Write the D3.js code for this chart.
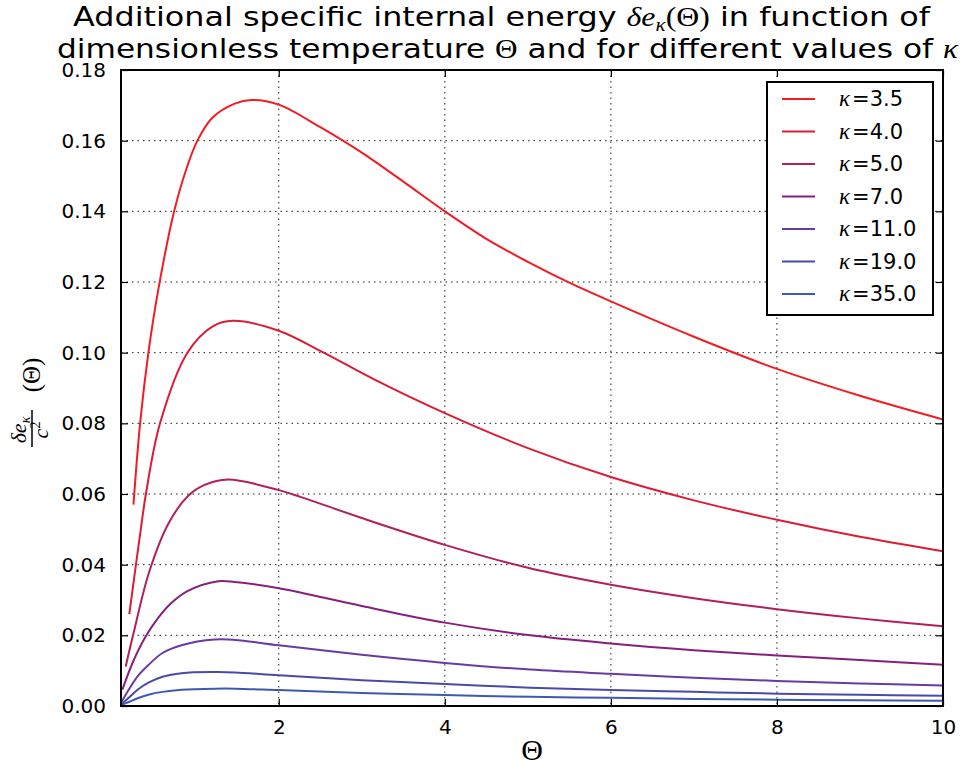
<!DOCTYPE html>
<html>
<head>
<meta charset="utf-8">
<script src="https://cdn.jsdelivr.net/npm/d3@7"></script>
<style>
  body { margin: 0; background: #fff; }
  svg { display: block; }
  text { font-family: "DejaVu Sans", sans-serif; fill: #000; }
  .math { font-family: "Liberation Serif", serif; }
</style>
</head>
<body>
<svg id="chart" width="962" height="773"></svg>
<script>
// Series values (theta, value pairs for each kappa)
const kappas = ['3.5', '4.0', '5.0', '7.0', '11.0', '19.0', '35.0'];
const colors = ['#f21c24', '#dc1c36', '#b21f5c', '#86207c', '#6a3aa2', '#4a4ba8', '#3d5ab0'];

const theta35 = [0.25, 0.33, 0.43, 0.55, 0.74, 0.88, 1.02, 1.2, 1.47, 1.67, 2.0, 2.5, 3.0, 3.5, 4.0, 4.5, 5.0, 5.5, 6.0, 7.0, 8.0, 9.0, 10.0];
const e35 = [0.057, 0.080, 0.100, 0.118, 0.140, 0.1515, 0.160, 0.1665, 0.1705, 0.1715, 0.1702, 0.1638, 0.1566, 0.1484, 0.1400, 0.1322, 0.1257, 0.1198, 0.1145, 0.1045, 0.0954, 0.0878, 0.0811];

const theta40 = [0.20, 0.337, 0.40, 0.57, 0.90, 1.2, 1.45, 2.0, 2.54, 3.16, 4.0, 5.0, 6.0, 7.0, 8.0, 9.0, 10.0];
const e40 = [0.026, 0.0498, 0.060, 0.080, 0.100, 0.1074, 0.109, 0.1062, 0.100, 0.0923, 0.0829, 0.073, 0.0648, 0.0582, 0.0527, 0.0479, 0.0438];

const theta50 = [0.157, 0.25, 0.44, 0.67, 0.91, 1.1, 1.39, 2.0, 2.26, 3.0, 4.0, 5.0, 6.0, 7.0, 8.0, 9.0, 10.0];
const e50 = [0.0112, 0.0205, 0.038, 0.0516, 0.0595, 0.0625, 0.0641, 0.0611, 0.0592, 0.0532, 0.0456, 0.0391, 0.0343, 0.0305, 0.0274, 0.0248, 0.0226];

const theta70 = [0.116, 0.25, 0.39, 0.55, 0.7, 0.9, 1.27, 1.47, 2.0, 3.0, 4.0, 5.03, 6.0, 7.0, 8.0, 9.0, 10.0];
const e70 = [0.0046, 0.0128, 0.0194, 0.0250, 0.0290, 0.0325, 0.0353, 0.0351, 0.0333, 0.0283, 0.0236, 0.020, 0.0177, 0.0158, 0.0143, 0.013, 0.0117];

const thetaLow = [0.1, 0.2, 0.3, 0.43, 0.6, 0.83, 1.23, 1.47, 2.0, 3.0, 4.0, 5.03, 6.0, 7.0, 8.0, 9.0, 10.0];
const e110 = [0.0009, 0.0049, 0.0084, 0.0116, 0.0150, 0.0172, 0.0188, 0.0187, 0.0172, 0.0145, 0.0122, 0.0103, 0.0091, 0.008, 0.0071, 0.0064, 0.0058];
const e190 = [0.0004, 0.0025, 0.0046, 0.0066, 0.0083, 0.0093, 0.0096, 0.0095, 0.0087, 0.0073, 0.0062, 0.0052, 0.0045, 0.004, 0.0035, 0.0032, 0.0029];
const e350 = [0.0002, 0.0012, 0.0022, 0.0032, 0.0040, 0.0046, 0.0049, 0.0049, 0.0045, 0.0037, 0.0031, 0.0026, 0.0023, 0.002, 0.0018, 0.0016, 0.0015];

const xTicks = [2, 4, 6, 8, 10];
const yTicks = [0, 0.02, 0.04, 0.06, 0.08, 0.10, 0.12, 0.14, 0.16, 0.18];

const series = [
  [theta35, e35], [theta40, e40], [theta50, e50], [theta70, e70],
  [thetaLow, e110], [thetaLow, e190], [thetaLow, e350],
].map(([t, e], i) => ({ kappa: kappas[i], color: colors[i], points: t.map((x, j) => [x, e[j]]) }));

const margin = { top: 70, right: 19, bottom: 67, left: 121 };
const width = 962 - margin.left - margin.right;
const height = 773 - margin.top - margin.bottom;

const svg = d3.select('#chart');
const g = svg.append('g').attr('transform', `translate(${margin.left},${margin.top})`);

const x = d3.scaleLinear().domain([0.1, 10]).range([0, width]);
const y = d3.scaleLinear().domain([0, 0.18]).range([height, 0]);

// Grid
g.append('g').selectAll('line').data(xTicks.slice(0, -1)).join('line')
  .attr('x1', d => x(d)).attr('x2', d => x(d)).attr('y1', 0).attr('y2', height)
  .attr('stroke', '#222').attr('stroke-width', 1).attr('stroke-dasharray', '1.5,4');
g.append('g').selectAll('line').data(yTicks.slice(1, -1)).join('line')
  .attr('y1', d => y(d)).attr('y2', d => y(d)).attr('x1', 0).attr('x2', width)
  .attr('stroke', '#222').attr('stroke-width', 1).attr('stroke-dasharray', '1.5,4');

// Curves
g.append('clipPath').attr('id', 'clip').append('rect').attr('width', width).attr('height', height);
const line = d3.line().x(d => x(d[0])).y(d => y(d[1])).curve(d3.curveCatmullRom.alpha(0.5));
g.append('g').attr('clip-path', 'url(#clip)').selectAll('path').data(series).join('path')
  .attr('d', d => line(d.points)).attr('fill', 'none')
  .attr('stroke', d => d.color).attr('stroke-width', 2);

// Axes (ticks point inward, on all four sides)
const styleAxis = (sel) => {
  sel.select('.domain').remove();
  sel.selectAll('.tick line').attr('stroke', '#000').attr('stroke-width', 1.2);
  sel.selectAll('.tick text').style('font-size', '20px').style('font-family', '"DejaVu Sans", sans-serif');
};
g.append('g').attr('transform', `translate(0,${height})`)
  .call(d3.axisBottom(x).tickValues(xTicks).tickSize(-7).tickPadding(14).tickFormat(d3.format('d')))
  .call(styleAxis);
g.append('g')
  .call(d3.axisLeft(y).tickValues(yTicks).tickSize(-7).tickPadding(15).tickFormat(d3.format('.2f')))
  .call(styleAxis);
g.append('g')
  .call(d3.axisTop(x).tickValues(xTicks).tickSize(-7).tickFormat(''))
  .call(styleAxis);
g.append('g').attr('transform', `translate(${width},0)`)
  .call(d3.axisRight(y).tickValues(yTicks).tickSize(-7).tickFormat(''))
  .call(styleAxis);

g.append('rect').attr('width', width).attr('height', height)
  .attr('fill', 'none').attr('stroke', '#000').attr('stroke-width', 2);

// Title, two separate lines stretched to the reference widths
const t1 = svg.append('text').attr('x', 73).attr('y', 26)
  .attr('textLength', 857).attr('lengthAdjust', 'spacingAndGlyphs').style('font-size', '27px');
t1.append('tspan').text('Additional specific internal energy ');
t1.append('tspan').attr('class', 'math').attr('font-style', 'italic').text('δe');
t1.append('tspan').attr('class', 'math').attr('font-style', 'italic').attr('dy', 5).style('font-size', '18px').text('κ');
t1.append('tspan').attr('class', 'math').attr('dy', -5).text('(Θ)');
t1.append('tspan').text(' in function of');
const t2 = svg.append('text').attr('x', 57).attr('y', 58)
  .attr('textLength', 901).attr('lengthAdjust', 'spacingAndGlyphs').style('font-size', '27px');
t2.append('tspan').text('dimensionless temperature ');
t2.append('tspan').attr('class', 'math').text('Θ');
t2.append('tspan').text(' and for different values of ');
t2.append('tspan').attr('class', 'math').attr('font-style', 'italic').text('κ');

// X label
svg.append('text').attr('class', 'math').attr('x', margin.left + width / 2).attr('y', 760)
  .attr('text-anchor', 'middle').style('font-size', '30px').text('Θ');

// Y label: fraction then (Θ), rotated
const yl = svg.append('g').attr('transform', 'translate(32,400) rotate(-90)');
yl.append('text').attr('class', 'math').attr('x', -30).attr('y', -6).attr('text-anchor', 'middle')
  .style('font-size', '22px').attr('font-style', 'italic')
  .call(t => {
    t.append('tspan').text('δe');
    t.append('tspan').attr('dy', 4).style('font-size', '14px').text('κ');
  });
yl.append('line').attr('x1', -47).attr('x2', -10).attr('y1', 0).attr('y2', 0)
  .attr('stroke', '#000').attr('stroke-width', 1.5);
yl.append('text').attr('class', 'math').attr('x', -30).attr('y', 16).attr('text-anchor', 'middle')
  .style('font-size', '22px').attr('font-style', 'italic')
  .call(t => {
    t.append('tspan').text('c');
    t.append('tspan').attr('dy', -8).style('font-size', '14px').attr('font-style', 'normal').text('2');
  });
yl.append('text').attr('class', 'math').attr('x', 25).attr('y', 8).attr('text-anchor', 'middle')
  .style('font-size', '25px').text('(Θ)');

// Legend
const legend = svg.append('g').attr('transform', 'translate(767,82)');
legend.append('rect').attr('width', 166).attr('height', 233)
  .attr('fill', '#fff').attr('stroke', '#000').attr('stroke-width', 2);
const rows = legend.selectAll('g').data(series).join('g')
  .attr('transform', (d, i) => `translate(0,${17 + i * 32.5})`);
rows.append('line').attr('x1', 15).attr('x2', 48).attr('stroke', d => d.color).attr('stroke-width', 2);
const lt = rows.append('text').attr('x', 72).attr('y', 7).style('font-size', '21px');
lt.append('tspan').attr('class', 'math').attr('font-style', 'italic').style('font-size', '23px').text('κ');
lt.append('tspan').attr('dx', 2).text('=');
lt.append('tspan').text(d => d.kappa);
</script>
</body>
</html>
